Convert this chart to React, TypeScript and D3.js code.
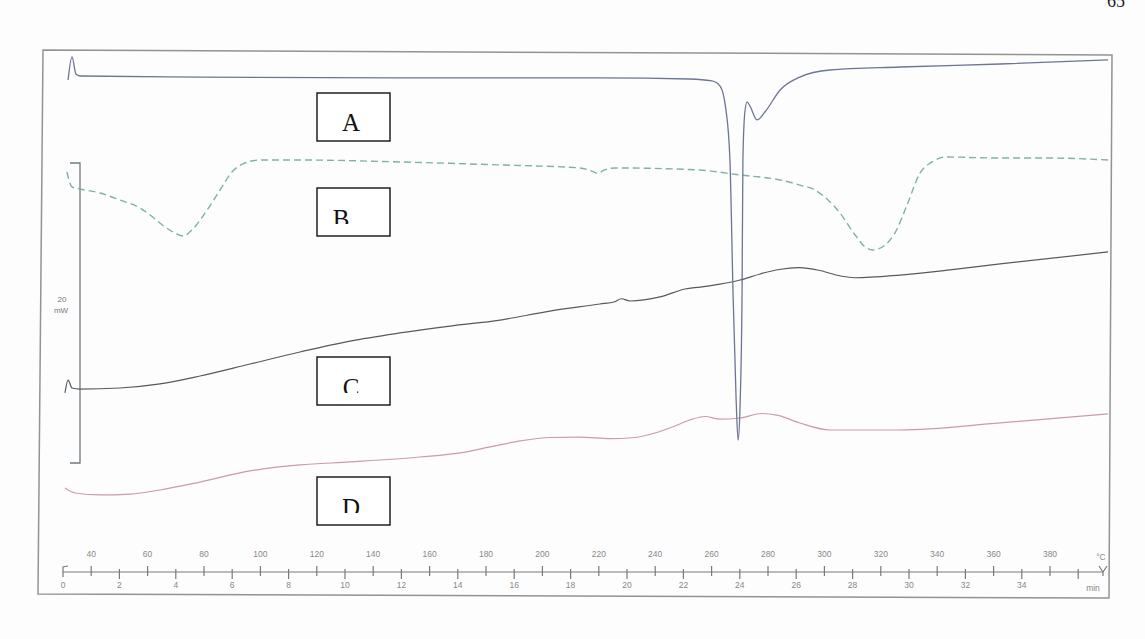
import * as d3 from "d3";
import React from "react";

// DSC thermograms, time in min, heat flow offset in mW
const curveA: [number, number][] = [
  [0.18, 25.53], [0.32, 27.07], [0.46, 25.93], [0.6, 25.8], [4.86, 25.73], [11.95, 25.67],
  [19.04, 25.67], [22.23, 25.6], [23.01, 25.47], [23.3, 25.13], [23.51, 23.53], [23.65, 20.2],
  [23.76, 11.33], [23.87, 4.2], [23.94, 1.53], [24.01, 3.87], [24.08, 11.33], [24.11, 20.2],
  [24.18, 23.4], [24.26, 24.07], [24.36, 23.8], [24.61, 22.87], [24.89, 23.4], [25.43, 24.87],
  [26.13, 25.73], [27.2, 26.2], [29.68, 26.4], [33.23, 26.6], [37.06, 26.87],
];
const curveB: [number, number][] = [
  [0.14, 19.4], [0.32, 18.4], [0.6, 18.27], [1.31, 18.0], [2.02, 17.53], [2.73, 17.0],
  [3.09, 16.53], [3.62, 15.73], [3.97, 15.33], [4.26, 15.13], [4.57, 15.53], [5.04, 16.67],
  [5.57, 18.2], [5.99, 19.4], [6.45, 20.0], [6.99, 20.2], [8.4, 20.2], [11.95, 20.07],
  [15.5, 19.87], [18.33, 19.67], [18.76, 19.45], [18.97, 19.3], [19.18, 19.53], [19.57, 19.67],
  [22.59, 19.53], [24.01, 19.2], [25.43, 18.87], [26.13, 18.53], [26.67, 18.2], [27.13, 17.53],
  [27.55, 16.67], [28.09, 15.2], [28.44, 14.4], [28.72, 14.2], [29.15, 14.53], [29.5, 15.33],
  [29.93, 17.2], [30.39, 19.33], [30.82, 20.07], [31.28, 20.4], [33.23, 20.33], [35.0, 20.33],
  [37.06, 20.2],
];
const curveC: [number, number][] = [
  [0.07, 4.67], [0.18, 5.53], [0.32, 5.0], [0.6, 4.93], [2.02, 5.0], [3.44, 5.27], [4.86, 5.8],
  [6.63, 6.6], [8.4, 7.4], [10.18, 8.13], [11.95, 8.67], [13.72, 9.13], [15.5, 9.53],
  [17.27, 10.13], [19.04, 10.6], [19.57, 10.75], [19.8, 10.95], [20.11, 10.8], [21.17, 11.07],
  [22.06, 11.6], [22.59, 11.73], [23.3, 11.93], [24.01, 12.2], [24.72, 12.6], [25.4, 12.9],
  [26.1, 13.02], [26.8, 12.85], [27.38, 12.55], [28.09, 12.35], [29.68, 12.53], [31.45, 12.87],
  [33.23, 13.27], [37.06, 14.07],
];
const curveD: [number, number][] = [
  [0.07, -1.67], [0.43, -2.0], [1.31, -2.13], [2.38, -2.07], [3.44, -1.8], [4.86, -1.27],
  [6.63, -0.53], [8.4, -0.13], [10.18, 0.07], [12.66, 0.4], [14.08, 0.67], [15.14, 1.07],
  [16.21, 1.47], [17.27, 1.7], [18.33, 1.73], [19.4, 1.62], [20.28, 1.7], [20.99, 2.0],
  [21.7, 2.47], [22.23, 2.87], [22.77, 3.1], [23.3, 2.92], [24.01, 3.0], [24.79, 3.3],
  [25.35, 3.18], [26.13, 2.67], [27.2, 2.2], [29.68, 2.2], [33.23, 2.67], [37.06, 3.27],
];

const minuteLabels = [0, 2, 4, 6, 8, 10, 12, 14, 16, 18, 20, 22, 24, 26, 28, 30, 32, 34];
const tempLabels = [40, 60, 80, 100, 120, 140, 160, 180, 200, 220, 240, 260, 280, 300, 320, 340, 360, 380];
const minuteTicks = d3.range(1, 37);
const labelBoxes = ["A", "B", "C", "D"];
const boxTops = [93, 188, 357, 477];

const W = 1145;
const H = 639;

export default function App() {
  const x = d3.scaleLinear().domain([0, 36]).range([63, 1078.2]);
  const tempX = d3.scaleLinear().domain([30, 390]).range([63, 1078.2]);
  const y = d3.scaleLinear().domain([0, 20]).range([463, 163]);

  const line = d3
    .line<[number, number]>()
    .x((d) => x(d[0]))
    .y((d) => y(d[1]))
    .curve(d3.curveMonotoneX);

  const axisY = 572;
  const tickColor = "#7a7a7a";
  const font = "'Liberation Sans', Arial, sans-serif";

  return (
    <svg
      width={W}
      height={H}
      style={{ position: "absolute", left: 0, top: 0, background: "#fdfdfd" }}
    >
      <defs>
        {labelBoxes.map((l, i) => (
          <clipPath id={`clip${l}`} key={l}>
            <rect x={317} y={boxTops[i]} width={73} height={i === 0 ? 48 : 36} />
          </clipPath>
        ))}
      </defs>

      <text x={1107} y={7} fontFamily="'Liberation Serif', serif" fontSize={18} fill="#222">
        65
      </text>

      {/* outer frame */}
      <path d="M43,50 L1112,55 L1109,598 L38,594 Z" fill="none" stroke="#939393" strokeWidth={1.5} />

      {/* scale bar 20 mW */}
      <path
        d={`M70,${y(20)} L80,${y(20)} L80,${y(0)} L70,${y(0)}`}
        fill="none"
        stroke="#6f7a80"
        strokeWidth={1.3}
      />
      <text x={62} y={302} textAnchor="middle" fontFamily={font} fontSize={8} fill="#777">20</text>
      <text x={61} y={313} textAnchor="middle" fontFamily={font} fontSize={8} fill="#777">mW</text>

      {/* curves */}
      <path d={line(curveD) ?? ""} fill="none" stroke="#c99bad" strokeWidth={1.2} />
      <path d={line(curveC) ?? ""} fill="none" stroke="#555a5e" strokeWidth={1.2} />
      <path d={line(curveB) ?? ""} fill="none" stroke="#7fb1a8" strokeWidth={1.4} strokeDasharray="7,4" />
      <path d={line(curveA) ?? ""} fill="none" stroke="#6c7592" strokeWidth={1.3} />

      {/* label boxes */}
      {labelBoxes.map((l, i) => (
        <g key={l}>
          <rect x={317} y={boxTops[i]} width={73} height={48} fill="#fff" stroke="#111" strokeWidth={1.4} />
          <text
            x={i === 1 ? 341 : 351}
            y={boxTops[i] + (i === 0 ? 38 : 39)}
            textAnchor="middle"
            fontFamily="'Liberation Serif', 'Times New Roman', serif"
            fontSize={25}
            fill="#111"
            clipPath={`url(#clip${l})`}
          >
            {l}
          </text>
        </g>
      ))}

      {/* time / temperature axis */}
      <line x1={x(0)} x2={1103} y1={axisY} y2={axisY} stroke={tickColor} strokeWidth={1.2} />
      <path d={`M${x(0)},${axisY + 5} L${x(0)},${axisY - 5} L${x(0) + 5},${axisY - 6}`} fill="none" stroke={tickColor} strokeWidth={1.2} />
      <path d={`M1103,${axisY + 4} L1103,${axisY} M1099,${axisY - 6} L1103,${axisY} L1107,${axisY - 6}`} fill="none" stroke={tickColor} strokeWidth={1.2} />
      {minuteTicks.map((m) => (
        <line
          key={m}
          x1={x(m)}
          x2={x(m)}
          y1={m % 2 === 1 ? axisY - 6 : axisY - 3}
          y2={m % 2 === 1 ? axisY + 4 : axisY + 7}
          stroke={tickColor}
          strokeWidth={1.2}
        />
      ))}
      {tempLabels.map((t) => (
        <text key={t} x={tempX(t)} y={557} textAnchor="middle" fontFamily={font} fontSize={8.5} fill="#888">
          {t}
        </text>
      ))}
      {minuteLabels.map((m) => (
        <text key={m} x={x(m)} y={588} textAnchor="middle" fontFamily={font} fontSize={8.5} fill="#888">
          {m}
        </text>
      ))}
      <text x={1101} y={560} textAnchor="middle" fontFamily={font} fontSize={8.5} fill="#888">°C</text>
      <text x={1093} y={591} textAnchor="middle" fontFamily={font} fontSize={8.5} fill="#888">min</text>
    </svg>
  );
}
